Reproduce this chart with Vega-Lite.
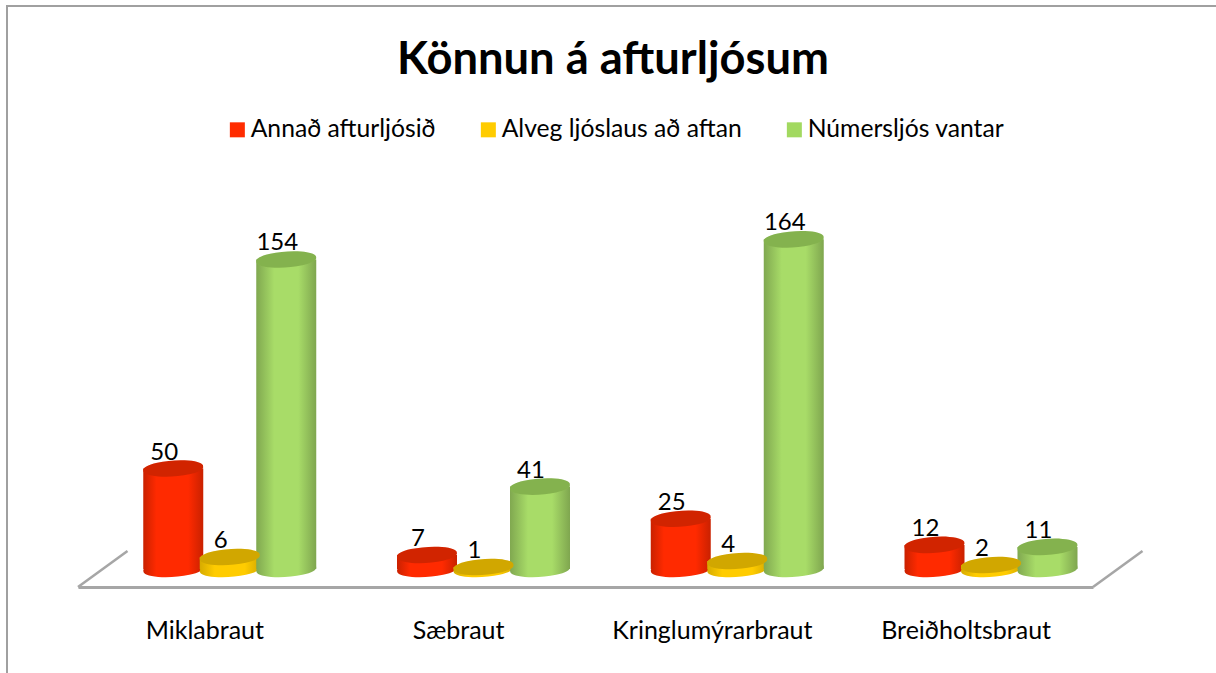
{
"$schema":"https://vega.github.io/schema/vega-lite/v6.json",
"autosize":{"type":"none"},
"padding":{"left":7,"top":6,"right":0,"bottom":0},
"width":1212,"height":680,
"background":"white",
"view":{"stroke":"#a0a0a0","strokeWidth":2},
"title":{"text":"Könnun á afturljósum","font":"Lato","fontSize":45.3,"fontWeight":"bold","color":"#000000","anchor":"middle","frame":"group","offset":-77},
"datasets":{
"main":[
{"road":"Miklabraut","series":"Annað afturljósið","value":50},
{"road":"Miklabraut","series":"Alveg ljóslaus að aftan","value":6},
{"road":"Miklabraut","series":"Númersljós vantar","value":154},
{"road":"Sæbraut","series":"Annað afturljósið","value":7},
{"road":"Sæbraut","series":"Alveg ljóslaus að aftan","value":1},
{"road":"Sæbraut","series":"Númersljós vantar","value":41},
{"road":"Kringlumýrarbraut","series":"Annað afturljósið","value":25},
{"road":"Kringlumýrarbraut","series":"Alveg ljóslaus að aftan","value":4},
{"road":"Kringlumýrarbraut","series":"Númersljós vantar","value":164},
{"road":"Breiðholtsbraut","series":"Annað afturljósið","value":12},
{"road":"Breiðholtsbraut","series":"Alveg ljóslaus að aftan","value":2},
{"road":"Breiðholtsbraut","series":"Númersljós vantar","value":11}
],
"floor":[
{"side":"left","pos":0,"h":-9},
{"side":"left","pos":0.195,"h":9},
{"side":"right","pos":4,"h":-9},
{"side":"right","pos":4.195,"h":9}
]},
"resolve":{"scale":{"x":"independent"},"axis":{"x":"independent"}},
"layer":[
{"data":{"name":"floor"},
 "mark":{"type":"line","color":"#a6a6a6","strokeWidth":2.5,"clip":false},
 "encoding":{
  "x":{"field":"pos","type":"quantitative","axis":null,"scale":{"domain":[0,4],"range":[71,1086],"nice":false,"zero":false}},
  "y":{"field":"h","type":"quantitative","axis":null,"scale":{"domain":[-58.2,280.1],"nice":false}},
  "detail":{"field":"side"}}},
{"data":{"name":"main"},
 "encoding":{
  "x":{"field":"road","type":"nominal","sort":["Miklabraut","Sæbraut","Kringlumýrarbraut","Breiðholtsbraut"],
   "scale":{"range":[71,1086],"paddingInner":0,"paddingOuter":0},
   "axis":{"title":null,"orient":"bottom","offset":-99,"ticks":false,"labelAngle":0,"labelFont":"Lato","labelFontSize":25,"labelColor":"#000000","labelPadding":31,"labelLimit":400,"domainColor":"#a6a6a6","domainWidth":3,"grid":false}},
  "xOffset":{"field":"series","type":"nominal","sort":["Annað afturljósið","Alveg ljóslaus að aftan","Númersljós vantar"],
   "scale":{"type":"band","range":[67,236.5],"paddingInner":0,"paddingOuter":0}},
  "y":{"field":"value","type":"quantitative","axis":null,"scale":{"domain":[-58.2,280.1],"nice":false}}
 },
 "layer":[
 {"transform":[{"filter":"datum.series=='Annað afturljósið'"}],
  "layer":[
  {"mark":{"type":"point","filled":true,"opacity":1,"size":3600,"shape":"M-0.995,0.07 A1,0.25 -4 1,1 0.995,-0.07 A1,0.25 -4 1,1 -0.995,0.07 Z","color":{"gradient":"linear","x1":0,"x2":1,"y1":0,"y2":0,"stops":[{"offset":0,"color":"#c92100"},{"offset":0.22,"color":"#ff2a00"},{"offset":0.75,"color":"#ff2a00"},{"offset":1,"color":"#c92100"}]}},
   "encoding":{"y":{"datum":0}}},
  {"mark":{"type":"bar","width":60,"color":{"gradient":"linear","x1":0,"x2":1,"y1":0,"y2":0,"stops":[{"offset":0,"color":"#c92100"},{"offset":0.22,"color":"#ff2a00"},{"offset":0.75,"color":"#ff2a00"},{"offset":1,"color":"#c92100"}]}},
   "encoding":{"y":{"field":"value","type":"quantitative","stack":null},"y2":{"datum":0}}}
  ]},
 {"transform":[{"filter":"datum.series=='Alveg ljóslaus að aftan'"}],
  "layer":[
  {"mark":{"type":"point","filled":true,"opacity":1,"size":3600,"shape":"M-0.995,0.07 A1,0.25 -4 1,1 0.995,-0.07 A1,0.25 -4 1,1 -0.995,0.07 Z","color":{"gradient":"linear","x1":0,"x2":1,"y1":0,"y2":0,"stops":[{"offset":0,"color":"#d6ab00"},{"offset":0.25,"color":"#ffcc00"},{"offset":0.75,"color":"#ffcc00"},{"offset":1,"color":"#d6ab00"}]}},
   "encoding":{"y":{"datum":0}}},
  {"mark":{"type":"bar","width":60,"color":{"gradient":"linear","x1":0,"x2":1,"y1":0,"y2":0,"stops":[{"offset":0,"color":"#d6ab00"},{"offset":0.25,"color":"#ffcc00"},{"offset":0.75,"color":"#ffcc00"},{"offset":1,"color":"#d6ab00"}]}},
   "encoding":{"y":{"field":"value","type":"quantitative","stack":null},"y2":{"datum":0}}}
  ]},
 {"transform":[{"filter":"datum.series=='Númersljós vantar'"}],
  "layer":[
  {"mark":{"type":"point","filled":true,"opacity":1,"size":3600,"shape":"M-0.995,0.07 A1,0.25 -4 1,1 0.995,-0.07 A1,0.25 -4 1,1 -0.995,0.07 Z","color":{"gradient":"linear","x1":0,"x2":1,"y1":0,"y2":0,"stops":[{"offset":0,"color":"#80a850"},{"offset":0.3,"color":"#a8dc68"},{"offset":0.7,"color":"#a8dc68"},{"offset":1,"color":"#7fa64f"}]}},
   "encoding":{"y":{"datum":0}}},
  {"mark":{"type":"bar","width":60,"color":{"gradient":"linear","x1":0,"x2":1,"y1":0,"y2":0,"stops":[{"offset":0,"color":"#80a850"},{"offset":0.3,"color":"#a8dc68"},{"offset":0.7,"color":"#a8dc68"},{"offset":1,"color":"#7fa64f"}]}},
   "encoding":{"y":{"field":"value","type":"quantitative","stack":null},"y2":{"datum":0}}}
  ]},
 {"mark":{"type":"point","filled":true,"opacity":1,"size":3600,"shape":"M-0.995,0.07 A1,0.25 -4 1,1 0.995,-0.07 A1,0.25 -4 1,1 -0.995,0.07 Z"},
  "encoding":{"color":{"field":"series","type":"nominal","sort":["Annað afturljósið","Alveg ljóslaus að aftan","Númersljós vantar"],
    "scale":{"domain":["Annað afturljósið","Alveg ljóslaus að aftan","Númersljós vantar"],"range":["#ff2c00","#ffcc00","#a2d960"]},
    "legend":{"title":null,"orient":"none","legendX":218,"legendY":111,"direction":"horizontal","columns":3,"symbolType":"square","symbolSize":225,"symbolOpacity":1,"symbolStrokeWidth":0,"labelFont":"Lato","labelFontSize":24.7,"labelColor":"#000000","labelLimit":400,"labelOffset":1,"columnPadding":40}}}},
 {"mark":{"type":"point","filled":true,"opacity":0.18,"size":3600,"color":"#000000","shape":"M-0.995,0.07 A1,0.25 -4 1,1 0.995,-0.07 A1,0.25 -4 1,1 -0.995,0.07 Z"}},
 {"mark":{"type":"text","font":"Lato","fontSize":24,"color":"#000000","baseline":"alphabetic","align":"center","dy":-9,"dx":-9},
  "encoding":{"text":{"field":"value","type":"quantitative"}}}
 ]}
]
}
